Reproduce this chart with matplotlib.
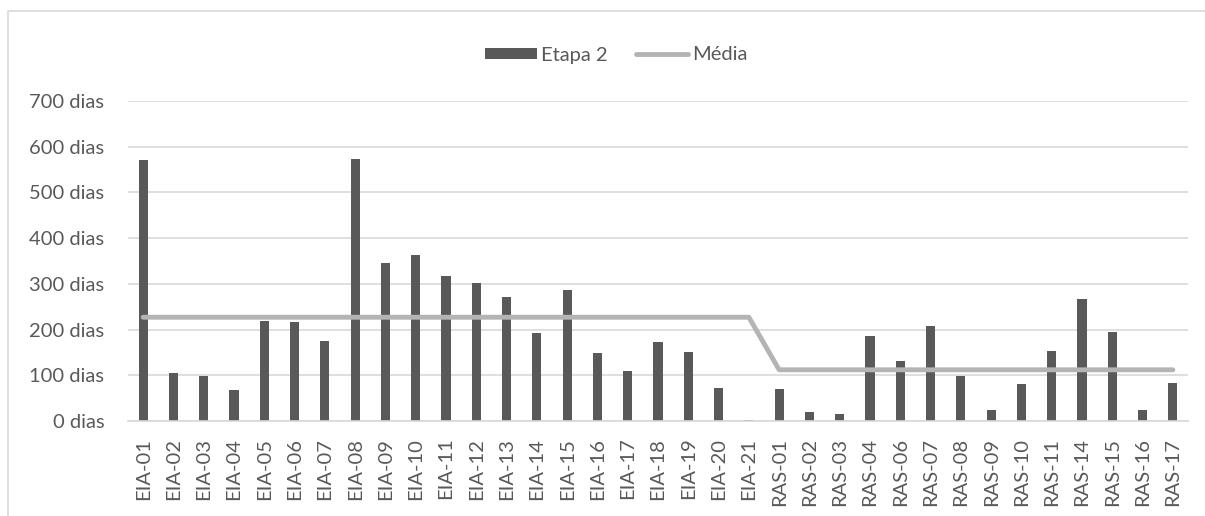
import matplotlib
import matplotlib.pyplot as plt
import numpy as np
from matplotlib.patches import Rectangle

matplotlib.use('Agg')

plt.rcParams['font.family'] = ['Lato', 'DejaVu Sans']

labels = ['EIA-01', 'EIA-02', 'EIA-03', 'EIA-04', 'EIA-05', 'EIA-06', 'EIA-07',
          'EIA-08', 'EIA-09', 'EIA-10', 'EIA-11', 'EIA-12', 'EIA-13', 'EIA-14',
          'EIA-15', 'EIA-16', 'EIA-17', 'EIA-18', 'EIA-19', 'EIA-20', 'EIA-21',
          'RAS-01', 'RAS-02', 'RAS-03', 'RAS-04', 'RAS-06', 'RAS-07', 'RAS-08',
          'RAS-09', 'RAS-10', 'RAS-11', 'RAS-14', 'RAS-15', 'RAS-16', 'RAS-17']

etapa2 = [571, 104, 99, 68, 218, 216, 175, 573, 345, 364, 317, 302, 272, 192,
          286, 148, 110, 173, 150, 72, 3,
          69, 20, 15, 187, 131, 207, 99, 23, 80, 153, 267, 195, 23, 84]

# media per group (EIA / RAS)
media = [227] * 21 + [112] * 14

y_ticks = [0, 100, 200, 300, 400, 500, 600, 700]

text_color = '#595959'
grid_color = '#d9d9d9'

fig = plt.figure(figsize=(12.05, 5.16), dpi=100)
W, H = 1205, 516
ax = fig.add_axes([128 / W, (H - 421) / H, 1060 / W, 320 / H])

# chart border
fig.patches.append(Rectangle((8 / W, -0.1), 1.2, (H - 11) / H + 0.1,
                             transform=fig.transFigure, fill=False,
                             edgecolor=grid_color, linewidth=1.2))

x = np.arange(len(labels))
bars = ax.bar(x, etapa2, width=0.3, color='#595959', label='Etapa 2', zorder=2)
line, = ax.plot(x, media, color='#b4b4b4', linewidth=3.5, label='Média',
                solid_capstyle='round', solid_joinstyle='round', zorder=3)

ax.set_xlim(-0.5, len(labels) - 0.5)
ax.set_ylim(0, 700)
ax.set_yticks(y_ticks, [f'{v} dias' for v in y_ticks])
ax.set_xticks(x, labels, rotation=90)
ax.yaxis.grid(True, color=grid_color, linewidth=1.2, zorder=0)
ax.set_axisbelow(True)
for s in ['top', 'right', 'left']:
    ax.spines[s].set_visible(False)
ax.spines['bottom'].set_color(grid_color)
ax.spines['bottom'].set_linewidth(1.2)
ax.tick_params(axis='both', length=0, colors=text_color, labelsize=14.5)
ax.tick_params(axis='x', pad=12)
ax.tick_params(axis='y', pad=17)

fig.legend([bars, line], ['Etapa 2', 'Média'], loc='center',
           bbox_to_anchor=(616 / W, (H - 55) / H), ncol=2,
           frameon=False, fontsize=14.5, labelcolor=text_color,
           handlelength=2.6, handleheight=0.5, columnspacing=1.4,
           handletextpad=0.2)

fig.savefig('out.png', dpi=100)
